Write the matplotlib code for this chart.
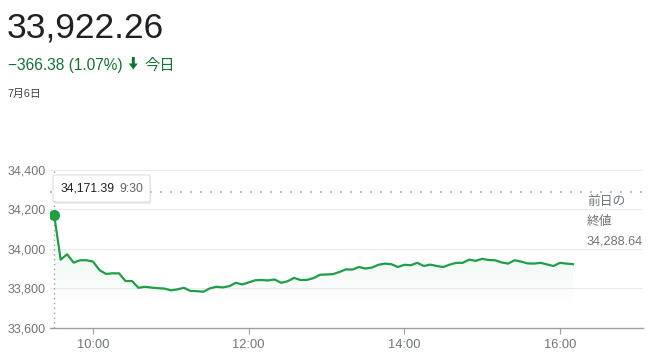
import matplotlib.pyplot as plt
from matplotlib.patches import FancyBboxPatch, Polygon
import numpy as np

# 5-minute index price values, 9:30 .. 16:10
prices = [34171.39, 33945, 33972, 33930, 33942, 33942, 33935, 33892, 33873, 33876,
          33876, 33837, 33837, 33803, 33808, 33804, 33801, 33799, 33790, 33795,
          33803, 33787, 33786, 33783, 33800, 33808, 33805, 33811, 33828, 33820,
          33830, 33841, 33842, 33840, 33845, 33828, 33836, 33853, 33842, 33843,
          33852, 33869, 33870, 33872, 33883, 33896, 33895, 33908, 33900, 33905,
          33919, 33925, 33922, 33908, 33919, 33917, 33929, 33913, 33920, 33913,
          33908, 33920, 33929, 33929, 33945, 33939, 33949, 33943, 33942, 33931,
          33925, 33942, 33935, 33926, 33925, 33929, 33921, 33913, 33929, 33925,
          33922.26]
step_min = 5
prev_close = 34288.64
last_price = '33,922.26'
change_text = '\u2212366.38 (1.07%)'
date_text = '7月6日'
tooltip_value = '34,171.39'
tooltip_time = '9:30'
y_ticks = [33600, 33800, 34000, 34200, 34400]
x_ticks = [30, 150, 270, 390]          # minutes after 9:30
x_labels = ['10:00', '12:00', '14:00', '16:00']

W, H = 650, 356
line_green = '#1e9e47'
text_green = '#137333'
gray = '#70757a'
fam = ['Liberation Sans', 'Noto Sans CJK JP', 'DejaVu Sans']
plt.rcParams['font.family'] = fam

fig = plt.figure(figsize=(W / 100, H / 100), dpi=100)


def fx(px):
    return px / W


def fy(py):
    return 1 - py / H


ax = fig.add_axes([fx(50), fy(328), fx(643) - fx(50), fy(169.5) - fy(328)])
t = np.arange(len(prices)) * step_min

ax.set_xlim(-3.2, 454)
ax.set_ylim(33600, 34400)

# gridlines
for v in y_ticks[1:]:
    ax.axhline(v, color='#ebebeb', lw=0.8, zorder=0)

# gradient fill under the line
poly = ax.fill_between(t, prices, 33600, color='none', lw=0)
grad = np.linspace(0, 1, 256).reshape(-1, 1)
rgba = np.zeros((256, 1, 4))
rgba[..., 0] = 0.12
rgba[..., 1] = 0.62
rgba[..., 2] = 0.28
rgba[..., 3] = np.clip((grad[:, 0] - 0.25) / 0.5, 0, 1)[:, None] * 0.05
img = ax.imshow(rgba, extent=[t[0], t[-1], 33600, 34000], origin='lower',
                aspect='auto', zorder=1)
img.set_clip_path(poly.get_paths()[0], transform=ax.transData)

ax.plot(t, prices, color=line_green, lw=1.6, zorder=3)
ax.plot([t[0]], [prices[0]], 'o', color=line_green, ms=7, zorder=4)

# previous close dotted line and 9:30 marker line
ax.axhline(prev_close, color='#9aa0a6', lw=1.2, ls=(0, (1, 5)), zorder=2)
ax.axvline(0, color='#9aa0a6', lw=1.0, ls=(0, (1, 2.5)), zorder=2)

for s in ['top', 'right', 'left']:
    ax.spines[s].set_visible(False)
ax.spines['bottom'].set_color('#9aa0a6')
ax.spines['bottom'].set_linewidth(1.0)

ax.set_yticks(y_ticks)
ax.set_yticklabels([f'{v:,}' for v in y_ticks])
ax.tick_params(axis='y', length=0, pad=3, labelsize=9, labelcolor=gray)
ax.set_xticks(x_ticks)
ax.set_xticklabels(x_labels)
ax.tick_params(axis='x', length=4, width=0.8, color='#9aa0a6', pad=4,
               labelsize=9.3, labelcolor=gray)

# header texts
fig.text(fx(7), fy(37), last_price, fontsize=25.5, color='#202124', va='baseline')
fig.text(fx(8), fy(70), change_text, fontsize=11.2, color=text_green, va='baseline')
fig.text(fx(144), fy(70), '今日', fontsize=11, color=text_green, va='baseline')
fig.text(fx(8), fy(97), date_text, fontsize=7.8, color='#3c4043', va='baseline')

# down arrow (filled) next to the change
arrow_px = [(131.8, 57), (134.8, 57), (134.8, 63.5), (137.8, 63.5), (133.3, 69.5),
            (128.8, 63.5), (131.8, 63.5)]
fig.patches.append(Polygon([(fx(a), fy(b)) for a, b in arrow_px], closed=True,
                           transform=fig.transFigure, facecolor=text_green,
                           edgecolor='none'))

# previous close label
fig.text(fx(587), fy(202), '前日の', fontsize=9.2, color=gray, va='center')
fig.text(fx(587), fy(222), '終値', fontsize=9.2, color=gray, va='center')
fig.text(fx(587), fy(242), f'{prev_close:,.2f}', fontsize=9.2, color=gray, va='center')

# tooltip with soft shadow
shadow = FancyBboxPatch((fx(54), fy(204)), fx(150) - fx(53), fy(175) - fy(202),
                        boxstyle='round,pad=0,rounding_size=0.004',
                        transform=fig.transFigure, facecolor='#000000',
                        alpha=0.08, edgecolor='none', zorder=9)
fig.patches.append(shadow)
box = FancyBboxPatch((fx(53), fy(202)), fx(150) - fx(53), fy(175) - fy(202),
                     boxstyle='round,pad=0,rounding_size=0.004',
                     transform=fig.transFigure, facecolor='white',
                     edgecolor='#e0e0e0', lw=0.8, zorder=10)
fig.patches.append(box)
fig.text(fx(61), fy(188.5), tooltip_value, fontsize=8.8, color='#202124',
         va='center', zorder=11)
fig.text(fx(119), fy(188.5), tooltip_time, fontsize=8.8, color='#5f6368',
         va='center', zorder=11)

fig.savefig('out.png', dpi=100)
